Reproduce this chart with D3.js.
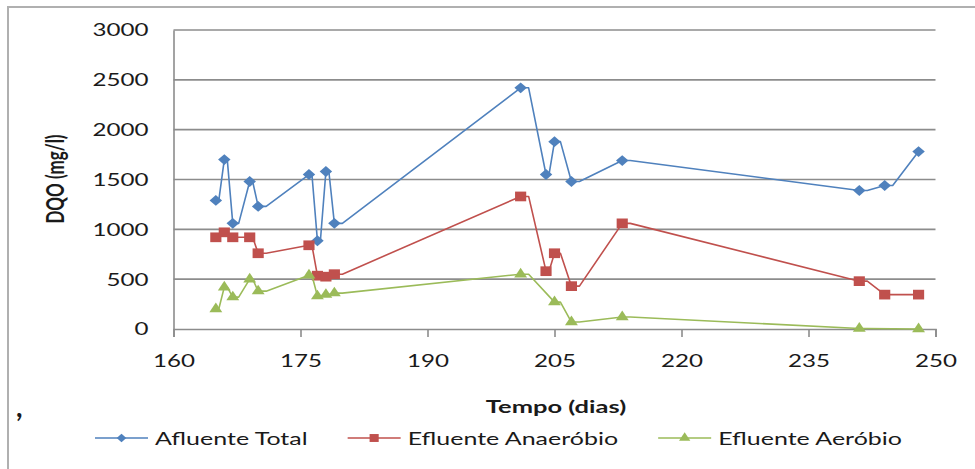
<!DOCTYPE html>
<html>
<head>
<meta charset="utf-8">
<script src="https://cdn.jsdelivr.net/npm/d3@7"></script>
<style>
  body { margin: 0; background: #fff; }
  svg { display: block; }
  text { font-family: Lato, "Open Sans", sans-serif; fill: #1a1a1a; }
</style>
</head>
<body>
<svg id="chart" width="975" height="469"></svg>
<script>
// dias
var afluenteDias = [165, 166, 167, 169, 170, 176, 177, 178, 179, 201, 204, 205, 207, 213, 241, 244, 248];
var afluenteTotal = [1290, 1700, 1060, 1480, 1230, 1550, 885, 1580, 1060, 2420, 1550, 1880, 1480, 1690, 1390, 1440, 1780];

var anaerobioDias = [165, 166, 167, 169, 170, 176, 177, 178, 179, 201, 204, 205, 207, 213, 241, 244, 248];
var efluenteAnaerobio = [920, 970, 920, 920, 760, 840, 535, 525, 550, 1330, 580, 760, 430, 1060, 480, 345, 345];

var aerobioDias = [165, 166, 167, 169, 170, 176, 177, 178, 179, 201, 205, 207, 213, 241, 248];
var efluenteAerobio = [200, 420, 320, 500, 380, 540, 330, 345, 360, 550, 270, 70, 120, 5, 0];

var xTicks = [160, 175, 190, 205, 220, 235, 250];
var yTicks = [0, 500, 1000, 1500, 2000, 2500, 3000];

var series = [
  { name: "Afluente Total", dias: afluenteDias, values: afluenteTotal, color: "#4F81BD", shape: d3.symbolDiamond2, size: 75, legSize: 45 },
  { name: "Efluente Anaeróbio", dias: anaerobioDias, values: efluenteAnaerobio, color: "#C0504D", shape: d3.symbolSquare2, size: 120, legSize: 80 },
  { name: "Efluente Aeróbio", dias: aerobioDias, values: efluenteAerobio, color: "#9BBB59", shape: d3.symbolTriangle2, size: 90, legSize: 70 }
];

var stretch = 1.42;   // text in the picture is wide
var svg = d3.select("#chart");

var x = d3.scaleLinear().domain([160, 250]).range([173.5, 935.5]);
var y = d3.scaleLinear().domain([0, 3000]).range([329, 30]);

// frame
svg.append("path")
  .attr("d", "M8,469V7H975")
  .attr("fill", "none")
  .attr("stroke", "#b0b0b0")
  .attr("stroke-width", 2);

// gridlines
svg.append("g")
  .selectAll("line")
  .data(yTicks.slice(1))
  .join("line")
  .attr("x1", x(160)).attr("x2", x(250))
  .attr("y1", d => y(d)).attr("y2", d => y(d))
  .attr("stroke", "#8c8c8c")
  .attr("stroke-width", 1.6);

// x axis
var xAxis = svg.append("g")
  .attr("transform", `translate(0,${y(0)})`)
  .call(d3.axisBottom(x).tickValues(xTicks).tickSize(8).tickSizeOuter(8).tickFormat(d3.format("d")));
xAxis.select(".domain").attr("stroke", "#8c8c8c").attr("stroke-width", 1.6);
xAxis.selectAll(".tick line").attr("stroke", "#8c8c8c").attr("stroke-width", 1.6);
xAxis.selectAll(".tick text")
  .attr("font-size", 17)
  .attr("y", 0).attr("dy", 0)
  .attr("transform", `translate(0,38) scale(${stretch},1)`);

// y axis
var yAxis = svg.append("g")
  .attr("transform", `translate(${x(160)},0)`)
  .call(d3.axisLeft(y).tickValues(yTicks).tickSize(0).tickFormat(d3.format("d")));
yAxis.select(".domain").attr("stroke", "#8c8c8c").attr("stroke-width", 1.6);
yAxis.selectAll(".tick text")
  .attr("font-size", 17)
  .attr("x", 0).attr("dy", "0.35em")
  .attr("transform", `translate(-25,0) scale(${stretch},1)`);

// axis titles
svg.append("text")
  .attr("transform", `translate(556,413) scale(1.5,1)`)
  .attr("text-anchor", "middle")
  .attr("font-size", 17)
  .attr("font-weight", "bold")
  .attr("fill", "#000")
  .text("Tempo (dias)");

svg.append("text")
  .attr("transform", `translate(64,179) scale(1.45,1) rotate(-90)`)
  .attr("text-anchor", "middle")
  .attr("font-size", 17)
  .attr("font-weight", "bold")
  .attr("fill", "#000")
  .text("DQO (mg/l)");

// line that keeps level a short way past each point, as in the picture
function shoulderCurve(context) {
  var n = 0, px, py;
  return {
    areaStart() {}, areaEnd() {},
    lineStart() { n = 0; },
    lineEnd() {},
    point(qx, qy) {
      if (n === 0) context.moveTo(qx, qy);
      else {
        var s = Math.min(8, Math.abs(qx - px) * 0.35);
        context.lineTo(px + s, py);
        context.lineTo(qx, qy);
      }
      px = qx; py = qy; n++;
    }
  };
}

var line = d3.line()
  .x(d => x(d[0]))
  .y(d => y(d[1]))
  .curve(shoulderCurve);

series.forEach(s => {
  var pts = s.dias.map((d, i) => [d, s.values[i]]);
  var g = svg.append("g");
  g.append("path")
    .attr("d", line(pts))
    .attr("fill", "none")
    .attr("stroke", s.color)
    .attr("stroke-width", 1.6)
    .attr("stroke-linejoin", "round");
  g.selectAll("path.mk")
    .data(pts)
    .join("path")
    .attr("class", "mk")
    .attr("transform", d => `translate(${x(d[0])},${y(d[1])}) scale(1.15,1)`)
    .attr("d", d3.symbol().type(s.shape).size(s.size)())
    .attr("fill", s.color);
});

// legend
var lx = 95, ly = 438;
series.forEach(s => {
  var g = svg.append("g").attr("transform", `translate(${lx},${ly})`);
  g.append("line").attr("x1", 0).attr("x2", 53).attr("y1", 0).attr("y2", 0)
    .attr("stroke", s.color).attr("stroke-width", 1.6);
  g.append("path")
    .attr("transform", `translate(26.5,0) scale(1.15,1)`)
    .attr("d", d3.symbol().type(s.shape).size(s.legSize)())
    .attr("fill", s.color);
  var t = g.append("text")
    .attr("transform", `translate(60,7) scale(${stretch},1)`)
    .attr("font-size", 17.6)
    .text(s.name);
  var w = t.node().getComputedTextLength() * stretch;
  lx += 60 + w + 40;
});

// stray comma from the page
svg.append("text")
  .attr("x", 16).attr("y", 417)
  .attr("font-family", "'Liberation Serif', serif")
  .attr("font-size", 28)
  .attr("font-weight", "bold")
  .attr("fill", "#000")
  .text(",");
</script>
</body>
</html>
